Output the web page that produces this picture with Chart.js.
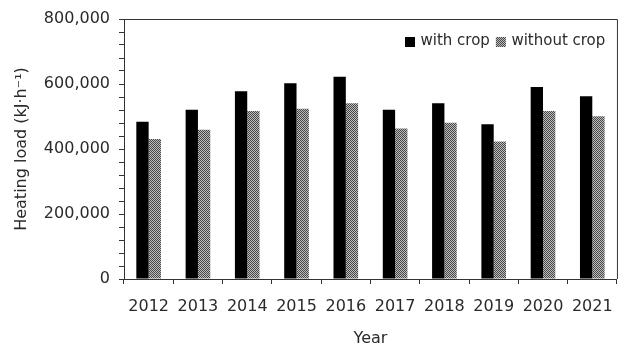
<!DOCTYPE html>
<html>
<head>
<meta charset="utf-8">
<script src="https://cdn.jsdelivr.net/npm/chart.js@4.4.1/dist/chart.umd.min.js"></script>
<style>
  html, body { margin: 0; padding: 0; background: #fff; }
  #wrap { width: 626px; height: 344px; }
</style>
</head>
<body>
<div id="wrap"><canvas id="c" width="626" height="344"></canvas></div>
<script>
// Annual heating load, greenhouse with and without crop (kJ·h⁻¹)
const years = ['2012', '2013', '2014', '2015', '2016', '2017', '2018', '2019', '2020', '2021'];
const withCrop = [484000, 521000, 578000, 602000, 622000, 521000, 541000, 476000, 591000, 562000];
const withoutCrop = [431000, 459000, 517000, 524000, 541000, 463000, 481000, 423000, 517000, 501000];
const seriesNames = ['with crop', 'without crop'];
const yMin = 0;
const yMax = 800000;
const yMajorStep = 200000;
const yMinorStep = 40000;

const FONT = 'DejaVu Sans';
const TEXT = '#2a2a2a';
const AXIS = '#333333';

const canvas = document.getElementById('c');
const ctx = canvas.getContext('2d');

// fine checkerboard fill for the second series
function checker() {
  const t = document.createElement('canvas');
  t.width = 2; t.height = 2;
  const g = t.getContext('2d');
  g.fillStyle = '#bdbdbd';
  g.fillRect(0, 0, 2, 2);
  g.fillStyle = '#474747';
  g.fillRect(0, 0, 1, 1);
  g.fillRect(1, 1, 1, 1);
  return ctx.createPattern(t, 'repeat');
}
const grayFill = checker();

// box around the plotting area (top and right edges)
const frame = {
  id: 'frame',
  afterDatasetsDraw(chart) {
    const a = chart.chartArea;
    const c = chart.ctx;
    c.save();
    c.strokeStyle = AXIS;
    c.lineWidth = 1;
    c.beginPath();
    c.moveTo(a.left, a.top + 0.5);
    c.lineTo(a.right + 0.5, a.top + 0.5);
    c.lineTo(a.right + 0.5, a.bottom);
    c.stroke();
    c.restore();
  }
};

// legend drawn inside the plotting area, top right
const innerLegend = {
  id: 'innerLegend',
  afterDraw(chart) {
    const a = chart.chartArea;
    const c = chart.ctx;
    c.save();
    c.font = '15px "' + FONT + '"';
    c.textBaseline = 'alphabetic';
    c.textAlign = 'left';
    const box = 10, gap = 5.5, itemGap = 6;
    let x = a.left + 281;
    const baseY = a.top + 26;
    chart.data.datasets.forEach(d => {
      c.fillStyle = d.backgroundColor;
      c.fillRect(x, baseY - 8, box, box);
      x += box + gap;
      c.fillStyle = TEXT;
      c.fillText(d.label, x, baseY);
      x += c.measureText(d.label).width + itemGap;
    });
    c.restore();
  }
};

new Chart(canvas, {
  type: 'bar',
  data: {
    labels: years,
    datasets: [
      { label: seriesNames[0], data: withCrop, backgroundColor: '#000000', borderWidth: 0 },
      { label: seriesNames[1], data: withoutCrop, backgroundColor: grayFill, borderWidth: 0 }
    ]
  },
  options: {
    responsive: false,
    animation: false,
    devicePixelRatio: 1,
    layout: { padding: { left: 0, right: 7, top: 19, bottom: 0 } },
    datasets: { bar: { categoryPercentage: 0.5, barPercentage: 1.0 } },
    plugins: {
      legend: { display: false },
      tooltip: { enabled: false }
    },
    scales: {
      x: {
        grid: { display: true, drawOnChartArea: false, offset: true, tickLength: 5, color: AXIS },
        border: { display: true, color: AXIS, width: 1 },
        ticks: { color: TEXT, font: { family: FONT, size: 16 }, padding: 13, maxRotation: 0, autoSkip: false },
        title: { display: true, text: 'Year', color: TEXT, font: { family: FONT, size: 16 }, padding: { top: 0, bottom: -4.5 } },
        afterFit(s) { s.height = 65; }
      },
      y: {
        min: yMin,
        max: yMax,
        grid: { display: true, drawOnChartArea: false, tickLength: 5, color: AXIS },
        border: { display: true, color: AXIS, width: 1 },
        ticks: {
          stepSize: yMinorStep,
          autoSkip: false,
          color: TEXT,
          font: { family: FONT, size: 16 },
          padding: 9,
          callback: v => (v % yMajorStep === 0 ? v.toLocaleString('en-US') : '')
        },
        title: { display: true, text: 'Heating load (kJ·h⁻¹)', color: TEXT, font: { family: FONT, size: 16 }, padding: { top: 12, bottom: 0 } },
        afterFit(s) { s.width = 124; }
      }
    }
  },
  plugins: [frame, innerLegend]
});
</script>
</body>
</html>
